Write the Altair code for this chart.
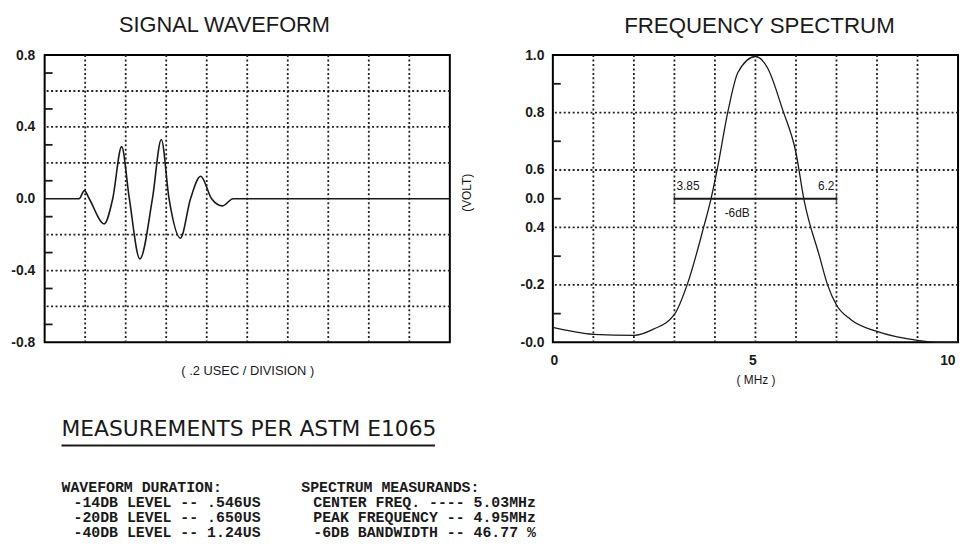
import altair as alt
import pandas as pd

# ---------------- data ----------------
# Signal waveform (x in divisions of 0.2 usec, y in volts)
wave_div = [0, 0.85, 0.98, 1.10, 1.47, 1.68, 1.90, 2.09, 2.35, 2.66, 2.88, 3.07,
            3.35, 3.60, 3.85, 4.12, 4.39, 4.65, 10]
wave_volt = [0, 0, 0.045, 0, -0.14, 0, 0.29, 0, -0.335, 0, 0.33, 0,
             -0.22, 0, 0.125, 0, -0.04, 0, 0]

# Frequency spectrum (MHz, normalised amplitude)
spec_mhz = [0, 1.0, 2.0, 2.47, 3.0, 3.33, 3.72, 3.9, 4.06, 4.33, 4.57, 5.0,
            5.3, 5.67, 6.0, 6.2, 6.58, 6.78, 7.0, 7.35, 8.0, 9.0, 9.5, 10]
spec_amp = [0.052, 0.028, 0.024, 0.045, 0.097, 0.207, 0.40, 0.498, 0.605, 0.81,
            0.94, 0.995, 0.955, 0.81, 0.66, 0.495, 0.30, 0.20, 0.13, 0.08,
            0.038, 0.007, 0.0, 0.0]

wave_grid_x = [1, 2, 3, 4, 5, 6, 7, 8, 9]
wave_grid_y = [-0.6, -0.4, -0.2, 0.2, 0.4, 0.6]
wave_minor_y = [-0.7, -0.5, -0.3, -0.1, 0.1, 0.3, 0.5, 0.7]
wave_ytick_vals = [-0.8, -0.4, 0.0, 0.4, 0.8]
wave_ytick_text = ["-0.8", "-0.4", "0.0", "0.4", "0.8"]

spec_grid_x = [1, 2, 3, 4, 5, 6, 7, 8, 9]
spec_grid_y = [0.2, 0.4, 0.6, 0.8]
spec_minor_y = [0.1, 0.3, 0.5, 0.7, 0.9]
spec_ytick_vals = [1.0, 0.8, 0.6, 0.5, 0.4, 0.2, 0.0]
spec_ytick_text = ["1.0", "0.8", "0.6", "0.0", "0.4", "-0.2", "-0.0"]
spec_xtick_vals = [0, 5, 10]

bw_start = [3.0]
bw_end = [7.0]
bw_level = [0.5]
bw_texts = ["3.85", "6.2", "-6dB"]
bw_text_x = [3.05, 6.95, 4.55]
bw_text_y = [0.545, 0.545, 0.45]

meas_title = "MEASUREMENTS  PER  ASTM  E1065"
left_lines = ["WAVEFORM DURATION:", "-14DB LEVEL -- .546US",
              "-20DB LEVEL -- .650US", "-40DB LEVEL -- 1.24US"]
right_lines = ["SPECTRUM MEASURANDS:", "CENTER FREQ. ---- 5.03MHz",
               "PEAK FREQUENCY -- 4.95MHz", "-6DB BANDWIDTH -- 46.77 %"]
line_indent = [0, 1, 1, 1]

# ---------------- helpers ----------------
INK = "#1a1a1a"
GRID = dict(strokeDash=[2, 2.5], strokeWidth=1.8, color="#222222")


def label_expr(vals, texts):
    expr = "''"
    for v, t in reversed(list(zip(vals, texts))):
        expr = f"(abs(datum.value - ({v})) < 1e-6) ? '{t}' : {expr}"
    return expr


W, H = 409, 290

# ---------------- signal waveform ----------------
wx = alt.Scale(domain=[0, 10], nice=False, zero=False)
wy = alt.Scale(domain=[-0.8, 0.8], nice=False, zero=False)
wx_axis = alt.Axis(labels=False, ticks=False, domain=False, grid=False,
                   title="( .2 USEC / DIVISION )", titlePadding=22)
wy_axis = alt.Axis(values=wave_ytick_vals,
                   labelExpr=label_expr(wave_ytick_vals, wave_ytick_text),
                   ticks=False, domain=False, grid=False, title=None,
                   labelPadding=10)

wave_df = pd.DataFrame({"t": wave_div, "v": wave_volt})
wgx = alt.Chart(pd.DataFrame({"gx": wave_grid_x})).mark_rule(**GRID).encode(
    x=alt.X("gx:Q", scale=wx, axis=wx_axis))
wgy = alt.Chart(pd.DataFrame({"gy": wave_grid_y})).mark_rule(**GRID).encode(
    y=alt.Y("gy:Q", scale=wy, axis=wy_axis))
wminor = alt.Chart(pd.DataFrame({"my": wave_minor_y})).mark_rule(
    color=INK, strokeWidth=1.8).encode(
    y=alt.Y("my:Q", scale=wy, axis=wy_axis), x=alt.value(0), x2=alt.value(8))
wline = alt.Chart(wave_df).mark_line(
    interpolate="monotone", color=INK, strokeWidth=1.6).encode(
    x=alt.X("t:Q", scale=wx, axis=wx_axis),
    y=alt.Y("v:Q", scale=wy, axis=wy_axis))
volt = alt.Chart(pd.DataFrame({"s": ["(VOLT)"]})).mark_text(
    angle=270, fontSize=12, font="Liberation Sans", color=INK,
    align="center", baseline="middle").encode(
    text="s:N", x=alt.value(W + 17), y=alt.value(139))

left = alt.layer(wgx, wgy, wminor, wline, volt).properties(
    width=W, height=H,
    title=alt.TitleParams("SIGNAL WAVEFORM", dx=-23, offset=11, fontSize=22),
    view=alt.ViewBackground(stroke="black", strokeWidth=2))

# ---------------- frequency spectrum ----------------
sx = alt.Scale(domain=[0, 10], nice=False, zero=False)
sy = alt.Scale(domain=[0, 1], nice=False, zero=False)
sx_axis = alt.Axis(values=spec_xtick_vals, format="d", ticks=False,
                   domain=False, grid=False, labelPadding=11, labelOffset=-3,
                   title="( MHz )", titlePadding=8, titleFontSize=12)
sy_axis = alt.Axis(values=spec_ytick_vals,
                   labelExpr=label_expr(spec_ytick_vals, spec_ytick_text),
                   ticks=False, domain=False, grid=False, title=None,
                   labelPadding=9)

spec_df = pd.DataFrame({"f": spec_mhz, "a": spec_amp})
sgx = alt.Chart(pd.DataFrame({"gx": spec_grid_x})).mark_rule(**GRID).encode(
    x=alt.X("gx:Q", scale=sx, axis=sx_axis))
sgy = alt.Chart(pd.DataFrame({"gy": spec_grid_y})).mark_rule(**GRID).encode(
    y=alt.Y("gy:Q", scale=sy, axis=sy_axis))
sminor = alt.Chart(pd.DataFrame({"my": spec_minor_y})).mark_rule(
    color=INK, strokeWidth=1.8).encode(
    y=alt.Y("my:Q", scale=sy, axis=sy_axis), x=alt.value(0), x2=alt.value(8))
sline = alt.Chart(spec_df).mark_line(
    interpolate="monotone", color=INK, strokeWidth=1.3).encode(
    x=alt.X("f:Q", scale=sx, axis=sx_axis),
    y=alt.Y("a:Q", scale=sy, axis=sy_axis))
bw_df = pd.DataFrame({"x1": bw_start, "x2": bw_end, "y": bw_level})
bw_bar = alt.Chart(bw_df).mark_rule(color=INK, strokeWidth=2.2).encode(
    x=alt.X("x1:Q", scale=sx, axis=sx_axis), x2="x2:Q",
    y=alt.Y("y:Q", scale=sy, axis=sy_axis))
bw_caps_l = alt.Chart(bw_df).mark_tick(color=INK, thickness=1.5, size=7,
                                       orient="vertical").encode(
    x=alt.X("x1:Q", scale=sx, axis=sx_axis), y=alt.Y("y:Q", scale=sy, axis=sy_axis))
bw_caps_r = alt.Chart(bw_df).mark_tick(color=INK, thickness=1.5, size=7,
                                       orient="vertical").encode(
    x=alt.X("x2:Q", scale=sx, axis=sx_axis), y=alt.Y("y:Q", scale=sy, axis=sy_axis))
bw_txt_df = pd.DataFrame({"s": bw_texts, "x": bw_text_x, "y": bw_text_y})
txt_kw = dict(fontSize=12, font="Liberation Sans", color=INK, baseline="middle")


def bw_text(i, align):
    return alt.Chart(bw_txt_df.iloc[[i]]).mark_text(align=align, **txt_kw).encode(
        x=alt.X("x:Q", scale=sx, axis=sx_axis),
        y=alt.Y("y:Q", scale=sy, axis=sy_axis), text="s:N")


right = alt.layer(sgx, sgy, sminor, sline, bw_bar, bw_caps_l, bw_caps_r,
                  bw_text(0, "left"), bw_text(1, "right"),
                  bw_text(2, "center")).properties(
    width=W, height=H,
    title=alt.TitleParams("FREQUENCY SPECTRUM", dx=4, offset=11, fontSize=22.5),
    view=alt.ViewBackground(stroke="black", strokeWidth=2))

# ---------------- measurement text block ----------------
rows = []
for col, lines in ((0, left_lines), (1, right_lines)):
    for i, s in enumerate(lines):
        rows.append({"s": s, "xc": col + 0.05 * line_indent[i], "row": i})
meas_df = pd.DataFrame(rows)

meas_txt = alt.Chart(meas_df).mark_text(
    align="left", baseline="middle", font="Liberation Mono", fontWeight="bold",
    fontSize=15, color=INK).encode(
    x=alt.X("xc:Q", scale=alt.Scale(domain=[0, 1], range=[17, 259]), axis=None),
    y=alt.Y("row:Q", scale=alt.Scale(domain=[0, 3], range=[106, 151]), axis=None),
    text="s:N")
meas_head = alt.Chart(pd.DataFrame({"s": [meas_title]})).mark_text(
    align="left", baseline="middle", font="DejaVu Sans", fontSize=22,
    color=INK).encode(text="s:N", x=alt.value(17), y=alt.value(48))
meas_line = alt.Chart(pd.DataFrame({"s": [meas_title]})).mark_rule(
    color=INK, strokeWidth=2).encode(x=alt.value(17), x2=alt.value(394),
                                     y=alt.value(64))

bottom = alt.layer(meas_head, meas_line, meas_txt).properties(
    width=W, height=150, view=alt.ViewBackground(stroke=None))

chart = alt.concat(left, right, bottom, columns=2,
                   spacing={"row": 40, "column": 104}, bounds="flush",
                   align="each").properties(
    padding={"left": 1, "top": 3, "right": 0, "bottom": 0},
    background="white"
).configure_axis(
    labelFont="Liberation Sans", labelFontSize=14, labelFontWeight="bold",
    labelColor=INK, titleFont="Liberation Sans", titleFontWeight="normal",
    titleFontSize=13, titleColor=INK
).configure_title(
    font="Liberation Sans", fontWeight="normal", color=INK, anchor="middle"
)

chart.save("out.html", embed_options={"renderer": "svg", "actions": False})
